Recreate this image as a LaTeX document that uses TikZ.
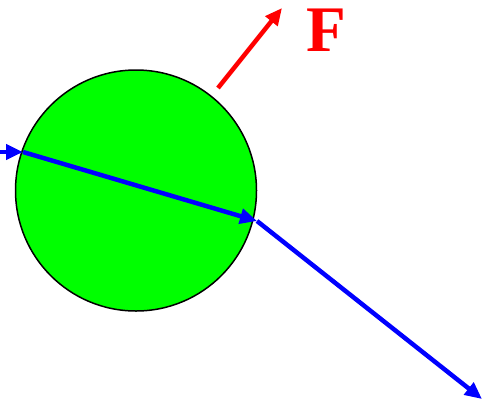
\documentclass[tikz,border=0pt]{standalone}
\usepackage{fontspec}
\setmainfont{Liberation Serif}
\usetikzlibrary{arrows.meta}
\definecolor{ballgreen}{RGB}{0,255,0}
\tikzset{
  ray/.style={blue, line width=4.5pt, -{Triangle[length=17pt,width=15pt]}},
  force/.style={red, line width=4.5pt, -{Triangle[length=17pt,width=15pt]}},
}
\begin{document}
\begin{tikzpicture}[x=1pt,y=-1pt]
\useasboundingbox (0,0) rectangle (484,408);
\node[circle, draw=black, line width=1.5pt, fill=ballgreen, minimum size=241pt, inner sep=0pt] (ball) at (136,190.5) {};
\coordinate (start) at (-2,152);
\coordinate (p1) at (23,152);
\coordinate (p2) at (257,221);
\coordinate (p3) at (482,399);
\coordinate (fs) at (218,88);
\coordinate (fe) at (282,8);
\draw[ray] (start) -- (p1);
\draw[ray] (p1) -- (p2);
\draw[ray] (p2) -- (p3);
\draw[force] (fs) -- (fe);
\node[red, font=\fontsize{65}{65}\selectfont\bfseries, inner sep=0pt, anchor=base] (F) at (326,51) {F};
\end{tikzpicture}
\end{document}
